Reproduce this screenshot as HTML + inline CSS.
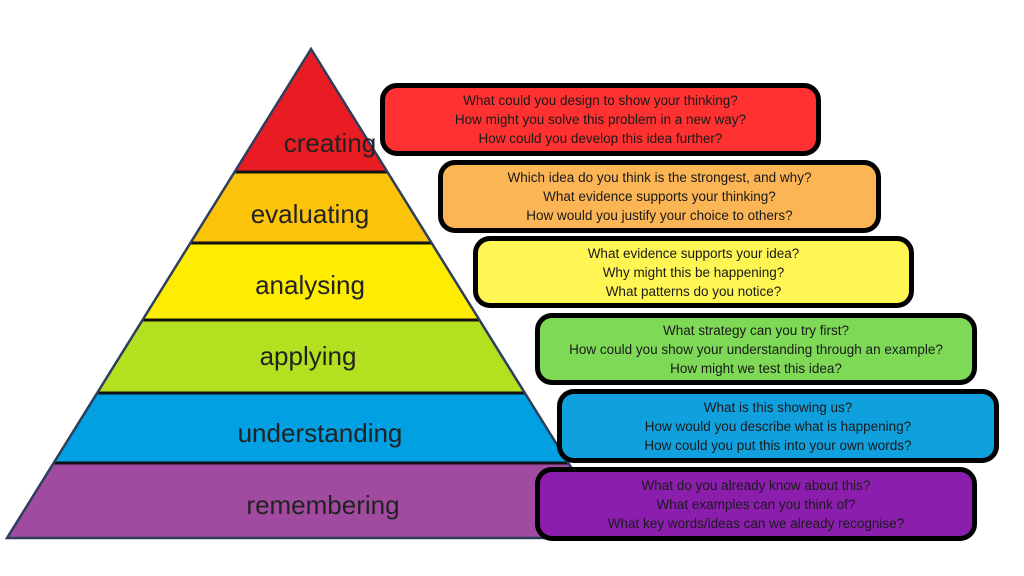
<!DOCTYPE html>
<html><head><meta charset="utf-8"><style>
body{margin:0;width:1024px;height:576px;background:#fff;position:relative;overflow:hidden;font-family:"Liberation Sans",sans-serif}
.b{position:absolute;box-sizing:border-box;border:5px solid #000;border-radius:17px;display:flex;flex-direction:column;justify-content:center;align-items:center;text-align:center;font-size:13.5px;line-height:19px;color:#1a1a1a}
svg{position:absolute;left:0;top:0}
</style></head><body>
<svg width="1024" height="576">
<defs><clipPath id="p"><polygon points="311,49 7,538 615,538"/></clipPath></defs>
<g clip-path="url(#p)">
<rect x="0" y="40" width="700" height="132" fill="#e91c24"/>
<rect x="0" y="172" width="700" height="71" fill="#fcc30b"/>
<rect x="0" y="243" width="700" height="77" fill="#feed00"/>
<rect x="0" y="320" width="700" height="73" fill="#b3e01f"/>
<rect x="0" y="393" width="700" height="70" fill="#00a0e3"/>
<rect x="0" y="463" width="700" height="80" fill="#a04b9f"/>
<g stroke="#111" stroke-width="3"><line x1="0" y1="172" x2="700" y2="172"/><line x1="0" y1="243" x2="700" y2="243"/><line x1="0" y1="320" x2="700" y2="320"/><line x1="0" y1="393" x2="700" y2="393"/><line x1="0" y1="463" x2="700" y2="463"/></g>
</g>
<polygon points="311,49 7,538 615,538" fill="none" stroke="#2e3f5e" stroke-width="2.5"/>
<g font-family="Liberation Sans, sans-serif" font-size="26" fill="#222" text-anchor="middle">
<text x="330" y="152">creating</text>
<text x="310" y="223">evaluating</text>
<text x="310" y="294">analysing</text>
<text x="308" y="365">applying</text>
<text x="320" y="442">understanding</text>
<text x="323" y="514">remembering</text>
</g>
</svg>
<div class="b" style="left:380px;top:83px;width:441px;height:73px;background:#ff3131">What could you design to show your thinking?<br>How might you solve this problem in a new way?<br>How could you develop this idea further?</div>
<div class="b" style="left:438px;top:160px;width:443px;height:73px;background:#fbb555">Which idea do you think is the strongest, and why?<br>What evidence supports your thinking?<br>How would you justify your choice to others?</div>
<div class="b" style="left:473px;top:236px;width:441px;height:72px;background:#fff553">What evidence supports your idea?<br>Why might this be happening?<br>What patterns do you notice?</div>
<div class="b" style="left:535px;top:313px;width:442px;height:72px;background:#7ed957">What strategy can you try first?<br>How could you show your understanding through an example?<br>How might we test this idea?</div>
<div class="b" style="left:557px;top:389px;width:442px;height:74px;background:#11a0de">What is this showing us?<br>How would you describe what is happening?<br>How could you put this into your own words?</div>
<div class="b" style="left:535px;top:467px;width:442px;height:74px;background:#8c1eae">What do you already know about this?<br>What examples can you think of?<br>What key words/ideas can we already recognise?</div>
</body></html>
